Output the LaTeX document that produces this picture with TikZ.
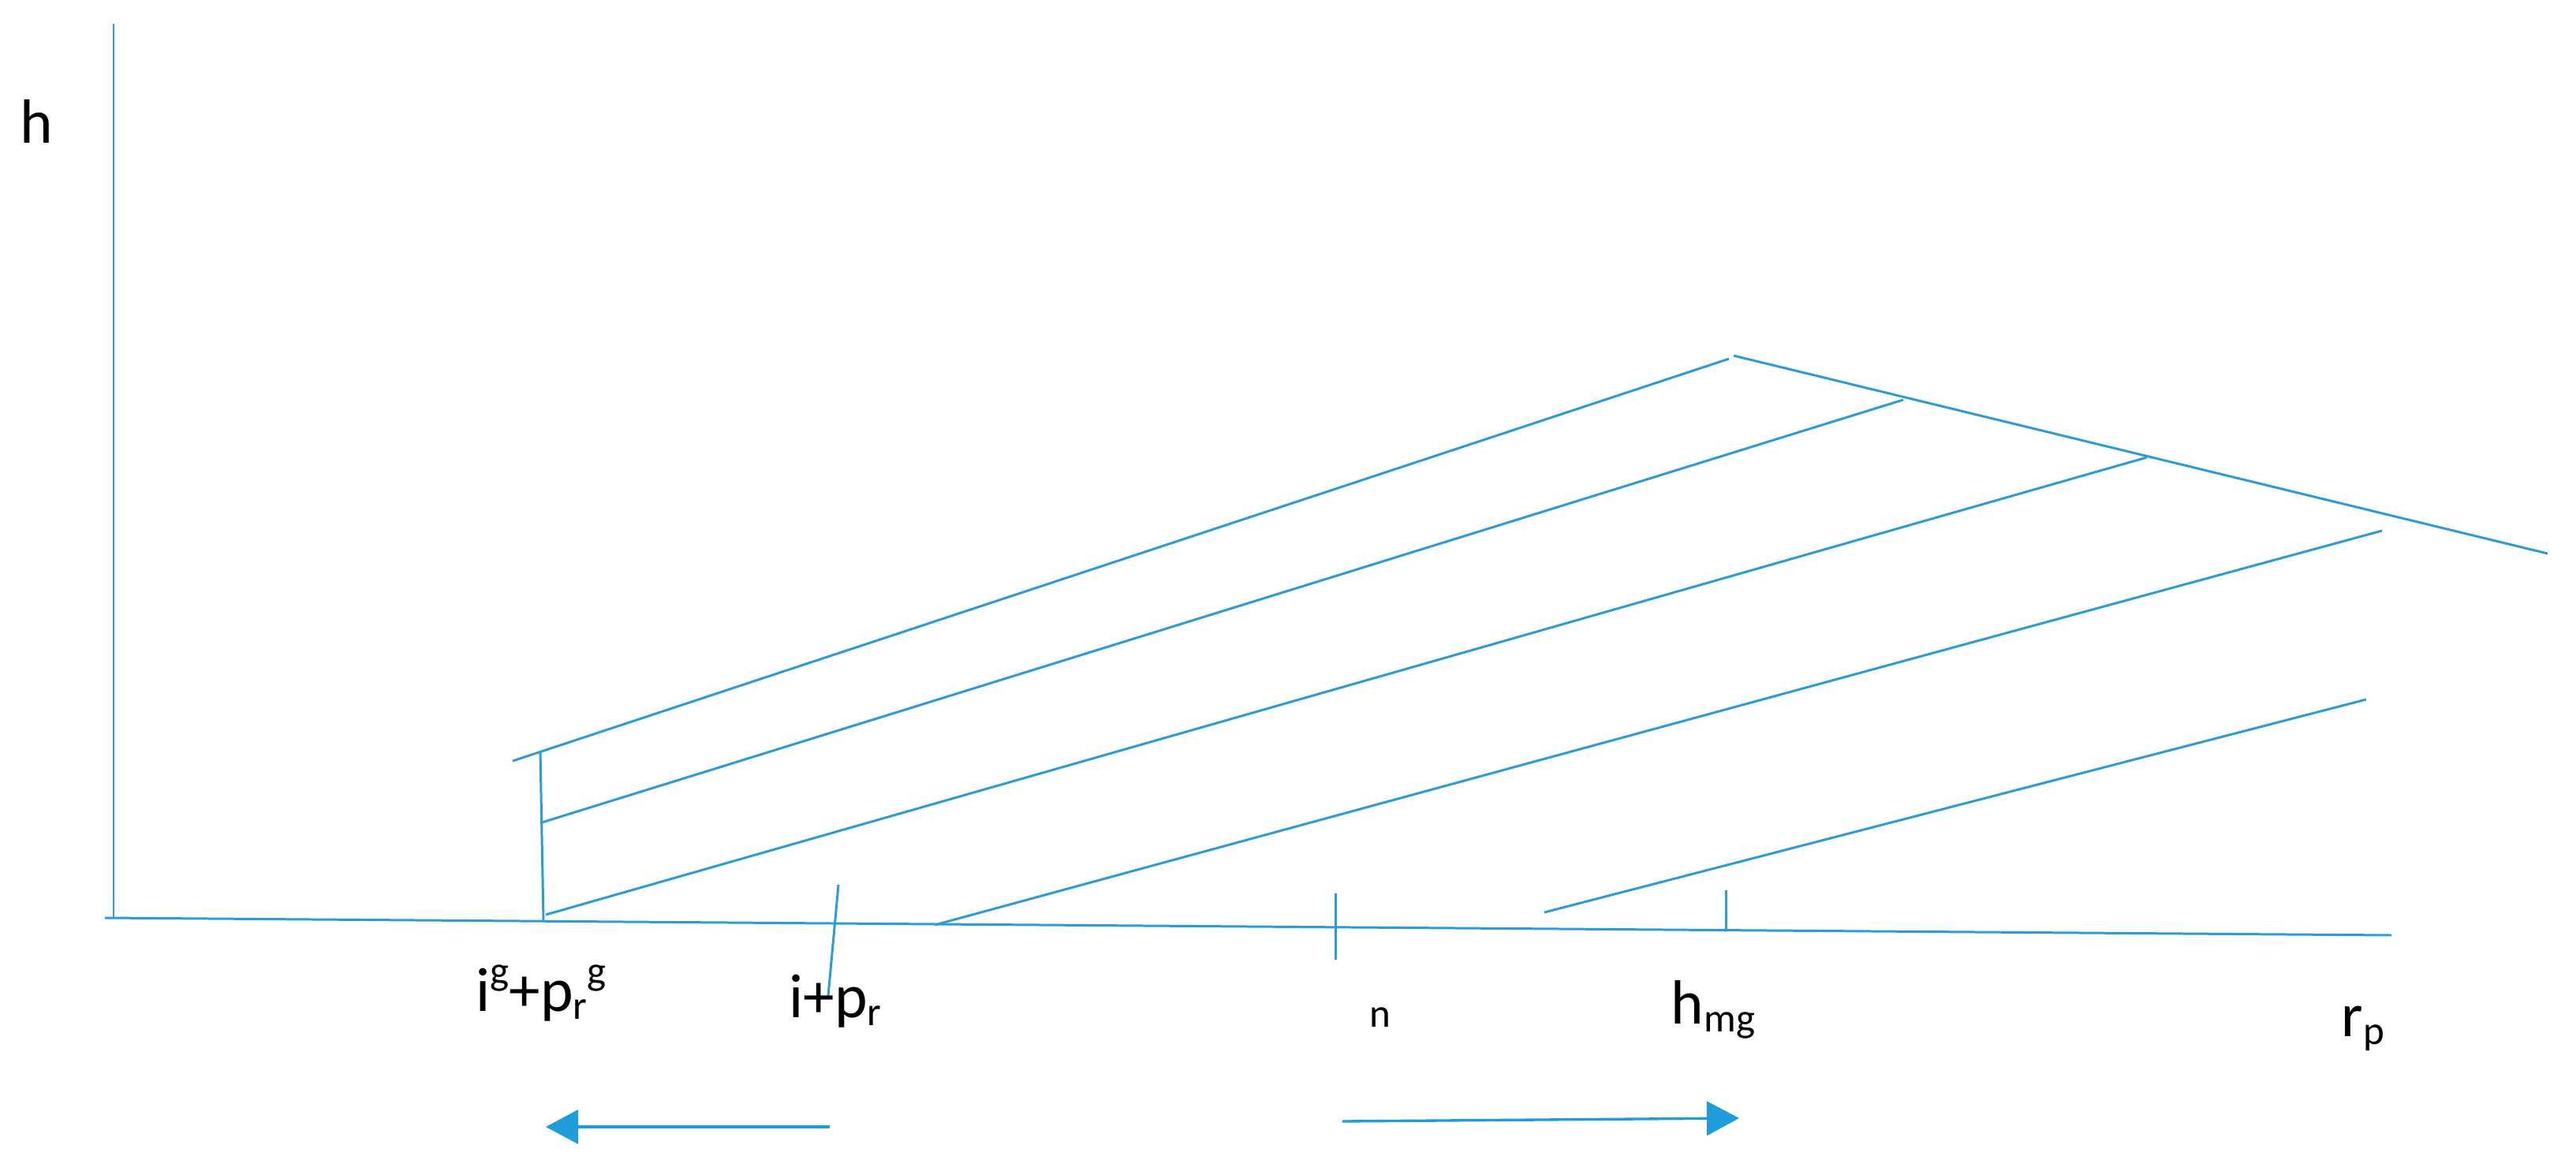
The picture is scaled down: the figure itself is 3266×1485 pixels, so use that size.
\documentclass[tikz,border=0pt]{standalone}
\usepackage{fontspec}
\setmainfont{Carlito}
\usetikzlibrary{arrows.meta}
\definecolor{lineblue}{HTML}{2E9BD6}
\definecolor{arrowblue}{HTML}{1E9DDA}
\newcommand\mysub[1]{\raisebox{-0.13em}{\fontsize{14.5}{15}\selectfont #1}}
\newcommand\mysup[1]{\raisebox{0.42em}{\fontsize{14.5}{15}\selectfont #1}}
\begin{document}
\begin{tikzpicture}[x=0.01cm, y=-0.01cm,
  ln/.style={draw=lineblue, line width=0.85pt},
  arr/.style={draw=arrowblue, line width=0.95pt, -{Triangle[length=0.41cm, width=0.43cm]}},
  lbl/.style={inner sep=0pt, anchor=base west, font=\fontsize{22.5}{27}\selectfont},
  smalllbl/.style={inner sep=0pt, anchor=base west, font=\fontsize{14.5}{15}\selectfont}]
\path[use as bounding box] (0,0) rectangle (3266,1485);

% axes
\coordinate (ytop) at (144,30);
\coordinate (ybot) at (144,1165);
\coordinate (xl) at (133,1164);
\coordinate (xr) at (3032,1186);
\draw[ln] (ytop) -- (ybot);
\draw[ln] (xl) -- (xr);

% vertical segment
\coordinate (vt) at (685,952);
\coordinate (vb) at (689,1167);
\draw[ln] (vt) -- (vb);

% top line and descending line
\coordinate (a1) at (650,965);
\coordinate (peakL) at (2192,455);
\coordinate (peakR) at (2198,451);
\coordinate (dend) at (3230,702);
\draw[ln] (a1) -- (peakL);
\draw[ln] (peakR) -- (dend);

% parallel lines
\coordinate (b1) at (687,1043);
\coordinate (b2) at (2413,507);
\draw[ln] (b1) -- (b2);
\coordinate (c1) at (692,1160);
\coordinate (c2) at (2722,580);
\draw[ln] (c1) -- (c2);
\coordinate (d1) at (1185,1173);
\coordinate (d2) at (3020,673);
\draw[ln] (d1) -- (d2);
\coordinate (e1) at (1958,1157);
\coordinate (e2) at (3000,887);
\draw[ln] (e1) -- (e2);

% ticks
\coordinate (t1a) at (1063,1122);
\coordinate (t1b) at (1050,1263);
\draw[ln] (t1a) -- (t1b);
\coordinate (t2a) at (1693,1133);
\coordinate (t2b) at (1693,1217);
\draw[ln] (t2a) -- (t2b);
\coordinate (t3a) at (2188,1129);
\coordinate (t3b) at (2188,1179);
\draw[ln] (t3a) -- (t3b);

% labels
\node[lbl] (lh) at (25,182) {h};
\node[lbl] (lig) at (603,1282) {i\mysup{g}+p\mysub{r}\mysup{g}};
\node[lbl] (lip) at (1000,1290) {i+p\mysub{r}};
\node[smalllbl] (ln) at (1736,1302) {n};
\node[lbl] (lhmg) at (2118,1298) {h\mysub{mg}};
\node[lbl] (lrp) at (2968,1314) {r\mysub{p}};

% arrows
\coordinate (al1) at (1052,1429);
\coordinate (al2) at (692,1429);
\draw[arr] (al1) -- (al2);
\coordinate (ar1) at (1702,1422);
\coordinate (ar2) at (2205,1418);
\draw[arr] (ar1) -- (ar2);
\end{tikzpicture}
\end{document}
